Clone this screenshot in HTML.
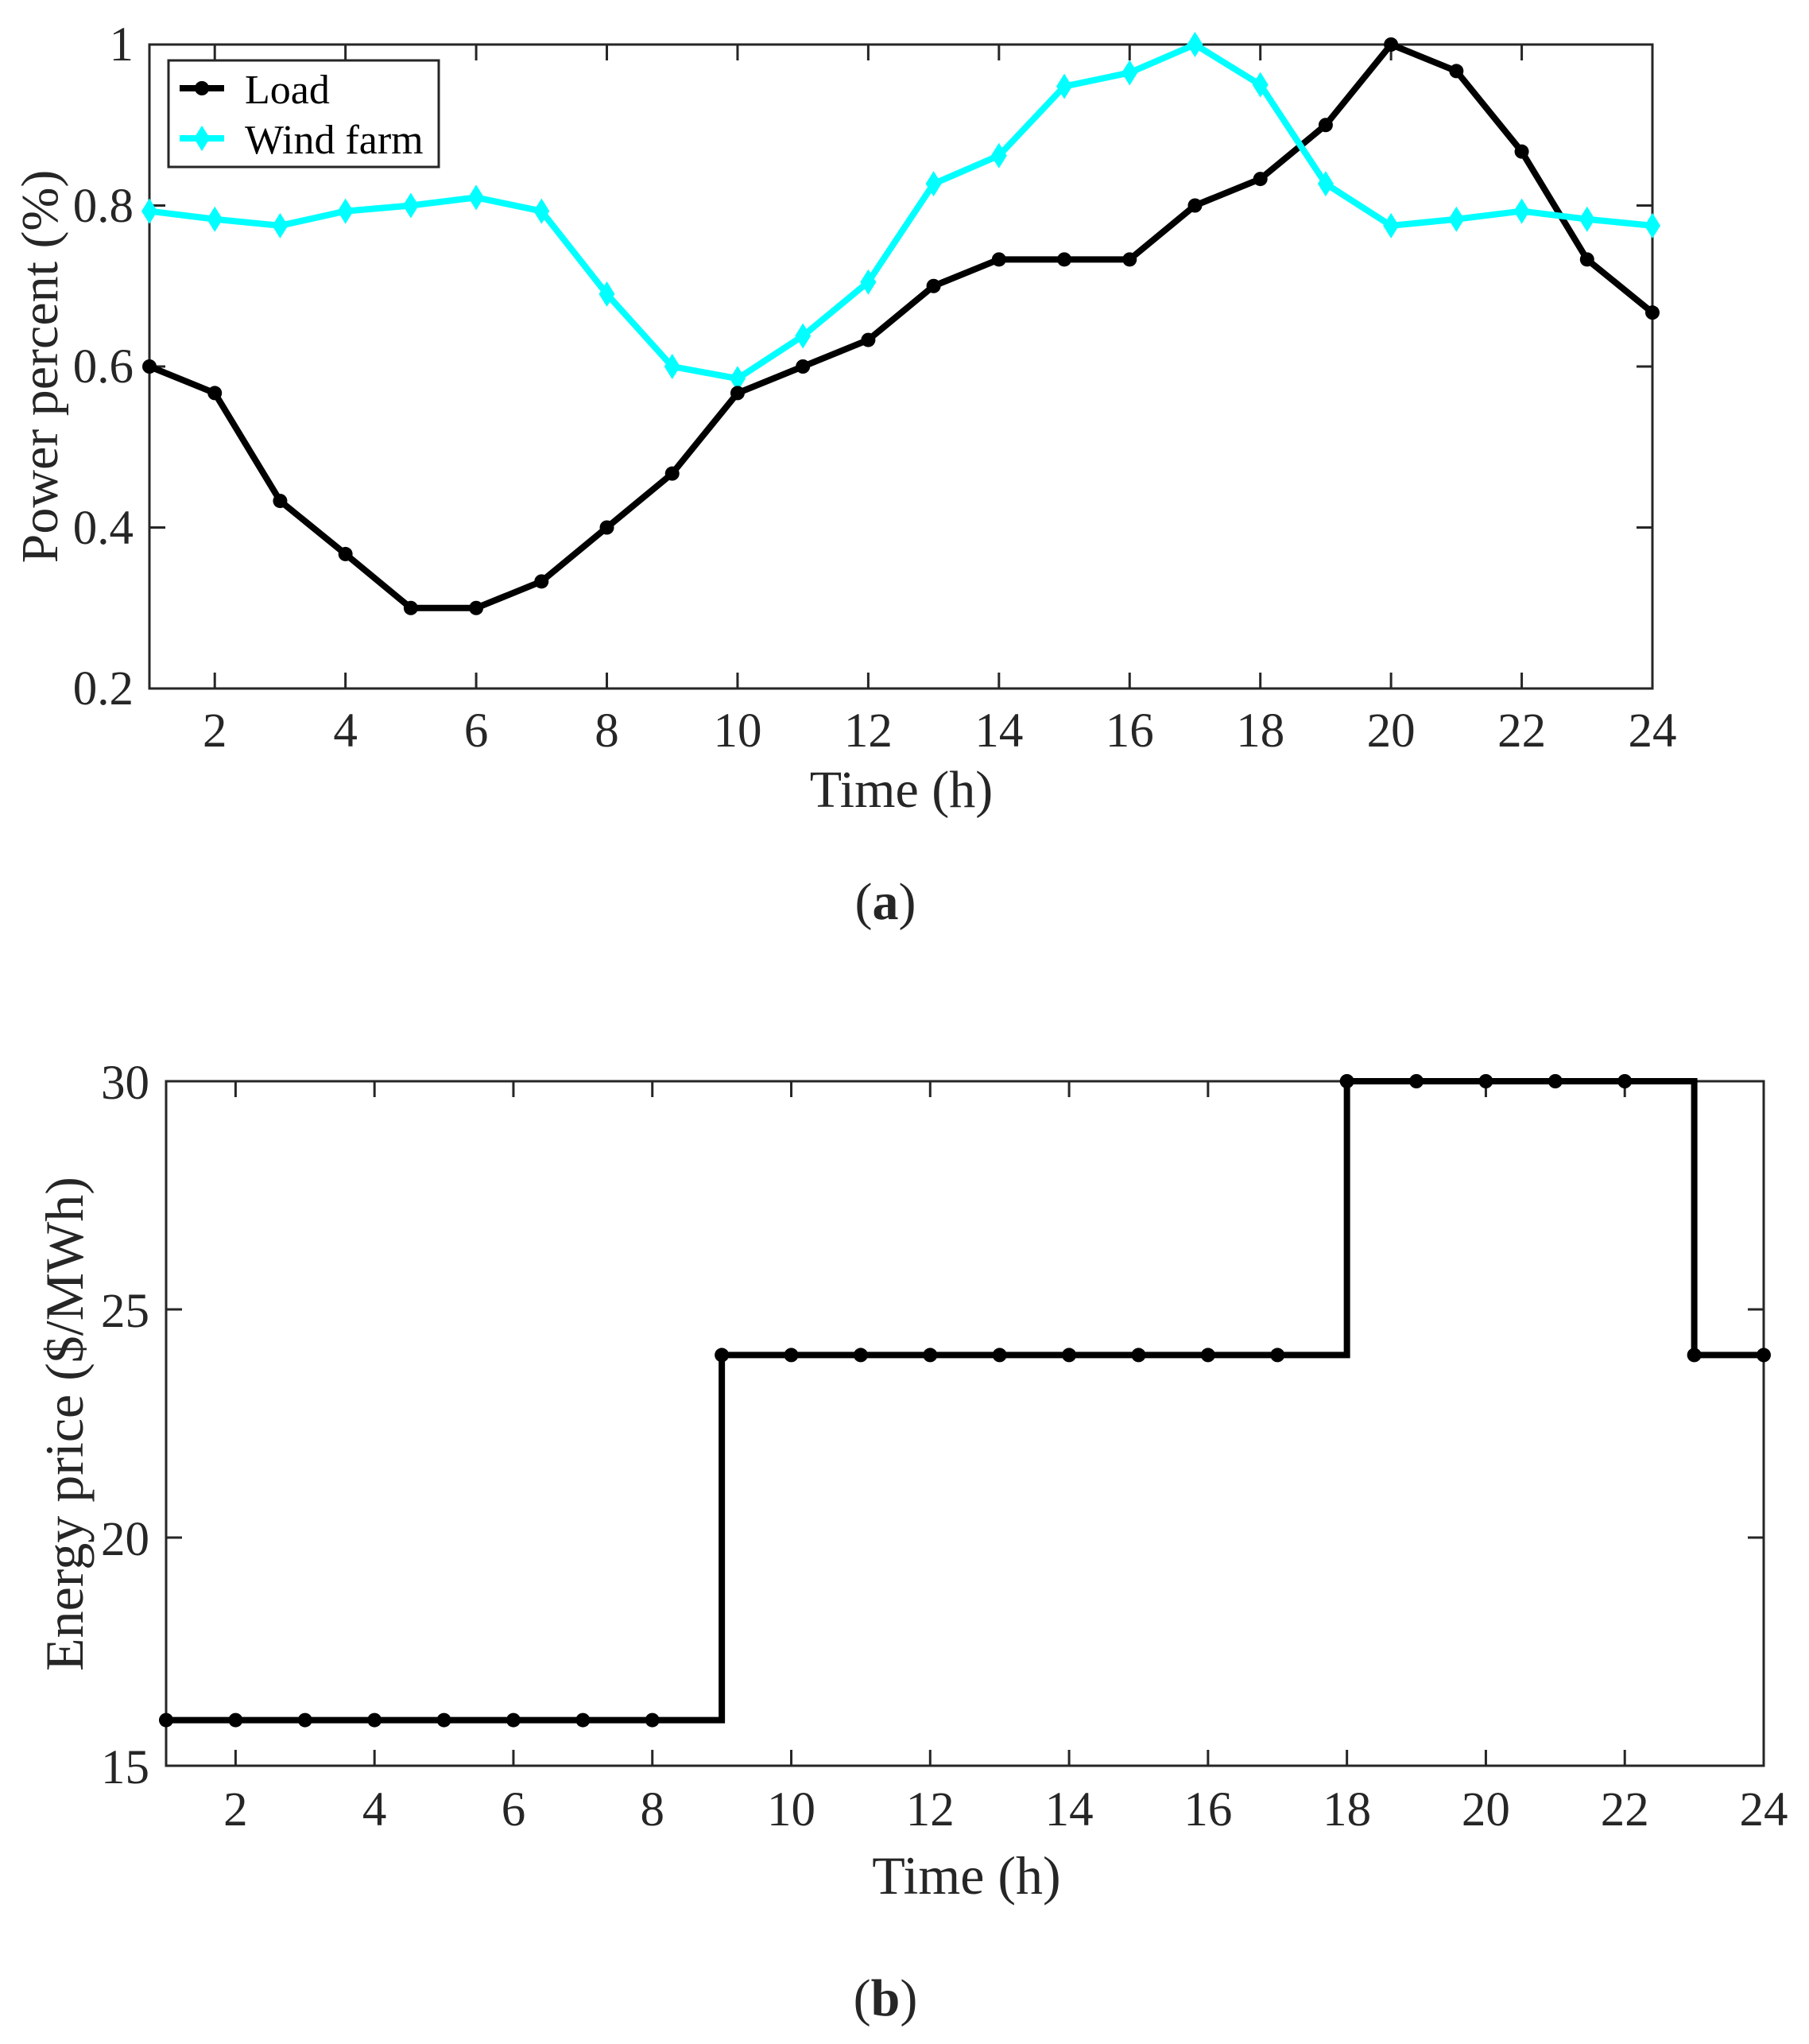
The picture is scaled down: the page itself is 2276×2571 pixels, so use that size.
<!DOCTYPE html>
<html><head><style>html,body{margin:0;padding:0;background:#fff}svg{display:block}svg text{font-family:"Liberation Serif","Times New Roman",serif}</style></head>
<body>
<svg width="2276" height="2571" viewBox="0 0 2276 2571" xmlns="http://www.w3.org/2000/svg" style="font-family:'Liberation Serif',serif" fill="#262626">
<g id="a">
<rect x="188" y="56" width="1891" height="810" fill="none" stroke="#262626" stroke-width="3"/>
<g stroke="#262626" stroke-width="3" id="ticksA"></g>
<g font-size="61" text-anchor="middle" id="xlabA"></g>
<g font-size="61" text-anchor="end">
<text x="168" y="76">1</text>
<text x="168" y="279">0.8</text>
<text x="168" y="481">0.6</text>
<text x="168" y="684">0.4</text>
<text x="168" y="886">0.2</text>
</g>
<text x="1134" y="1015" font-size="66" text-anchor="middle">Time (h)</text>
<text transform="translate(72,461) rotate(-90)" font-size="66" text-anchor="middle">Power percent (%)</text>
<text x="1114" y="1156" font-size="66" text-anchor="middle">(<tspan font-weight="bold">a</tspan>)</text>
<polyline id="load" fill="none" stroke="#000" stroke-width="8" stroke-linejoin="round"/>
<polyline id="wind" fill="none" stroke="#00ffff" stroke-width="8" stroke-linejoin="round"/>
<g id="mk"></g>
<rect x="212" y="76" width="340" height="134" fill="#fff" stroke="#262626" stroke-width="3"/>
<line x1="226" y1="111" x2="282" y2="111" stroke="#000" stroke-width="8"/>
<circle cx="254" cy="111" r="9" fill="#000"/>
<line x1="226" y1="174" x2="282" y2="174" stroke="#00ffff" stroke-width="8"/>
<polygon points="254,158 264,174 254,190 244,174" fill="#00ffff"/>
<text x="308" y="130" font-size="52" fill="#000">Load</text>
<text x="308" y="193" font-size="52" fill="#000">Wind farm</text>
</g>
<g id="b">
<rect x="209" y="1360" width="2010" height="861" fill="none" stroke="#262626" stroke-width="3"/>
<g stroke="#262626" stroke-width="3" id="ticksB"></g>
<g font-size="61" text-anchor="middle" id="xlabB"></g>
<g font-size="61" text-anchor="end">
<text x="188" y="1382">30</text>
<text x="188" y="1669">25</text>
<text x="188" y="1956">20</text>
<text x="188" y="2243">15</text>
</g>
<text x="1216" y="2382" font-size="68" text-anchor="middle">Time (h)</text>
<text transform="translate(104,1791) rotate(-90)" font-size="68" text-anchor="middle">Energy price ($/MWh)</text>
<text x="1114" y="2535" font-size="66" text-anchor="middle">(<tspan font-weight="bold">b</tspan>)</text>
<polyline id="price" fill="none" stroke="#000" stroke-width="8" stroke-linejoin="miter"/>
<g id="mkB"></g>
</g>
<script>
(function(){
var NS="http://www.w3.org/2000/svg";
function el(p,t,a,txt){var e=document.createElementNS(NS,t);for(var k in a)e.setAttribute(k,a[k]);if(txt)e.textContent=txt;document.getElementById(p).appendChild(e);return e;}
var L=188,R=2079,T=56,B=866,dx=(R-L)/23;
function ax(h){return L+(h-1)*dx;} function ay(v){return B-(v-0.2)/0.8*(B-T);}
for(var h=2;h<=24;h+=2){var x=ax(h);el("ticksA","line",{x1:x,y1:B,x2:x,y2:B-20});el("ticksA","line",{x1:x,y1:T,x2:x,y2:T+20});el("xlabA","text",{x:x,y:939},String(h));}
[0.4,0.6,0.8].forEach(function(v){var y=ay(v);el("ticksA","line",{x1:L,y1:y,x2:L+20,y2:y});el("ticksA","line",{x1:R,y1:y,x2:R-20,y2:y});});
var load=[0.6,0.567,0.433,0.367,0.3,0.3,0.333,0.4,0.467,0.567,0.6,0.633,0.7,0.733,0.733,0.733,0.8,0.833,0.9,1.0,0.967,0.867,0.733,0.667];
var wind=[0.793,0.783,0.775,0.793,0.8,0.81,0.793,0.69,0.6,0.585,0.638,0.705,0.827,0.862,0.948,0.965,1.0,0.95,0.827,0.775,0.783,0.793,0.783,0.775];
var pl=[],pw=[];
for(var i=0;i<24;i++){pl.push(ax(i+1)+","+ay(load[i]));pw.push(ax(i+1)+","+ay(wind[i]));}
document.getElementById("load").setAttribute("points",pl.join(" "));
document.getElementById("wind").setAttribute("points",pw.join(" "));
for(var i=0;i<24;i++){var x=ax(i+1),y=ay(wind[i]);el("mk","polygon",{points:x+","+(y-16)+" "+(x+10)+","+y+" "+x+","+(y+16)+" "+(x-10)+","+y,fill:"#00ffff"});}
for(var i=0;i<24;i++){el("mk","circle",{cx:ax(i+1),cy:ay(load[i]),r:9,fill:"#000"});}
var L2=209,R2=2219,T2=1360,B2=2221,dx2=(R2-L2)/23;
function bx(h){return L2+(h-1)*dx2;} function by(v){return B2-(v-15)/15*(B2-T2);}
for(var h=2;h<=24;h+=2){var x=bx(h);el("ticksB","line",{x1:x,y1:B2,x2:x,y2:B2-20});el("ticksB","line",{x1:x,y1:T2,x2:x,y2:T2+20});el("xlabB","text",{x:x,y:2296},String(h));}
[20,25].forEach(function(v){var y=by(v);el("ticksB","line",{x1:L2,y1:y,x2:L2+20,y2:y});el("ticksB","line",{x1:R2,y1:y,x2:R2-20,y2:y});});
var price=[16,16,16,16,16,16,16,16,24,24,24,24,24,24,24,24,24,30,30,30,30,30,24,24];
var pts=[bx(1)+","+by(16),bx(9)+","+by(16),bx(9)+","+by(24),bx(18)+","+by(24),bx(18)+","+by(30),bx(23)+","+by(30),bx(23)+","+by(24),bx(24)+","+by(24)];
document.getElementById("price").setAttribute("points",pts.join(" "));
for(var i=0;i<24;i++){el("mkB","circle",{cx:bx(i+1),cy:by(price[i]),r:9,fill:"#000"});}
})();
</script>
</svg>
</body></html>
